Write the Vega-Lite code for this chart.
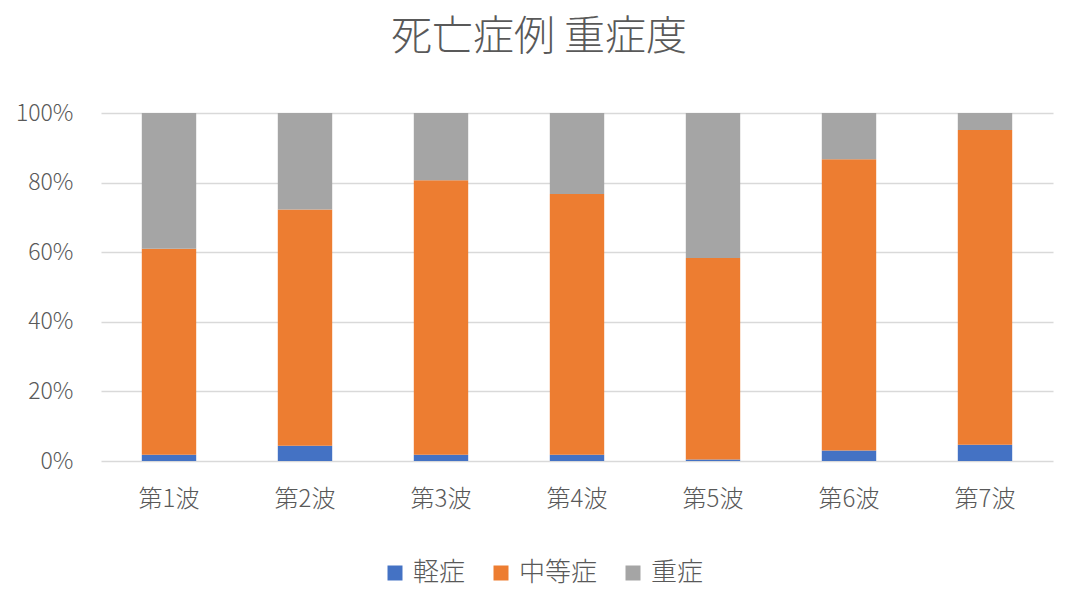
{
  "$schema": "https://vega.github.io/schema/vega-lite/v6.json",
  "autosize": {"type": "none"},
  "width": 952,
  "height": 348,
  "padding": {"left": 101, "top": 113, "right": 24, "bottom": 144},
  "background": "white",
  "title": {
    "text": "死亡症例 重症度",
    "font": "Noto Sans CJK JP",
    "fontSize": 41,
    "fontWeight": 300,
    "color": "#595959",
    "anchor": "middle",
    "dx": -38,
    "offset": 43
  },
  "data": {
    "values": [
      {"wave": "第1波", "severity": "軽症", "pct": 1.8},
      {"wave": "第1波", "severity": "中等症", "pct": 59.2},
      {"wave": "第1波", "severity": "重症", "pct": 39.0},
      {"wave": "第2波", "severity": "軽症", "pct": 4.4},
      {"wave": "第2波", "severity": "中等症", "pct": 67.9},
      {"wave": "第2波", "severity": "重症", "pct": 27.7},
      {"wave": "第3波", "severity": "軽症", "pct": 1.8},
      {"wave": "第3波", "severity": "中等症", "pct": 78.9},
      {"wave": "第3波", "severity": "重症", "pct": 19.3},
      {"wave": "第4波", "severity": "軽症", "pct": 1.8},
      {"wave": "第4波", "severity": "中等症", "pct": 74.9},
      {"wave": "第4波", "severity": "重症", "pct": 23.3},
      {"wave": "第5波", "severity": "軽症", "pct": 0.4},
      {"wave": "第5波", "severity": "中等症", "pct": 57.9},
      {"wave": "第5波", "severity": "重症", "pct": 41.7},
      {"wave": "第6波", "severity": "軽症", "pct": 3.0},
      {"wave": "第6波", "severity": "中等症", "pct": 83.7},
      {"wave": "第6波", "severity": "重症", "pct": 13.3},
      {"wave": "第7波", "severity": "軽症", "pct": 4.7},
      {"wave": "第7波", "severity": "中等症", "pct": 90.4},
      {"wave": "第7波", "severity": "重症", "pct": 4.9}
    ]
  },
  "transform": [
    {"calculate": "indexof(['軽症','中等症','重症'], datum.severity)", "as": "stackOrder"}
  ],
  "mark": {"type": "bar"},
  "encoding": {
    "x": {
      "field": "wave",
      "type": "nominal",
      "sort": null,
      "title": null,
      "scale": {"paddingInner": 0.6, "paddingOuter": 0.3},
      "axis": {
        "domain": false,
        "ticks": false,
        "labelAngle": 0,
        "labelFont": "Noto Sans CJK JP",
        "labelFontSize": 24,
        "labelFontWeight": 300,
        "labelColor": "#595959",
        "labelPadding": 26
      }
    },
    "y": {
      "field": "pct",
      "type": "quantitative",
      "stack": "normalize",
      "title": null,
      "scale": {"domain": [0, 1]},
      "axis": {
        "values": [0, 0.2, 0.4, 0.6, 0.8, 1],
        "format": ".0%",
        "domain": false,
        "ticks": false,
        "grid": true,
        "gridColor": "#d9d9d9",
        "gridWidth": 1.5,
        "labelFont": "Noto Sans CJK JP",
        "labelFontSize": 23,
        "labelFontWeight": 300,
        "labelColor": "#595959",
        "labelPadding": 28
      }
    },
    "color": {
      "field": "severity",
      "type": "nominal",
      "title": null,
      "scale": {
        "domain": ["軽症", "中等症", "重症"],
        "range": ["#4472C4", "#ED7D31", "#A5A5A5"]
      },
      "legend": {
        "orient": "none",
        "direction": "horizontal",
        "legendX": 281,
        "legendY": 447,
        "symbolType": "square",
        "symbolSize": 225,
        "symbolStrokeWidth": 0,
        "labelFont": "Noto Sans CJK JP",
        "labelFontSize": 26,
        "labelFontWeight": 300,
        "labelColor": "#595959",
        "labelOffset": 5,
        "columnPadding": 22
      }
    },
    "order": {"field": "stackOrder", "type": "quantitative"}
  },
  "config": {
    "view": {"stroke": null}
  }
}
